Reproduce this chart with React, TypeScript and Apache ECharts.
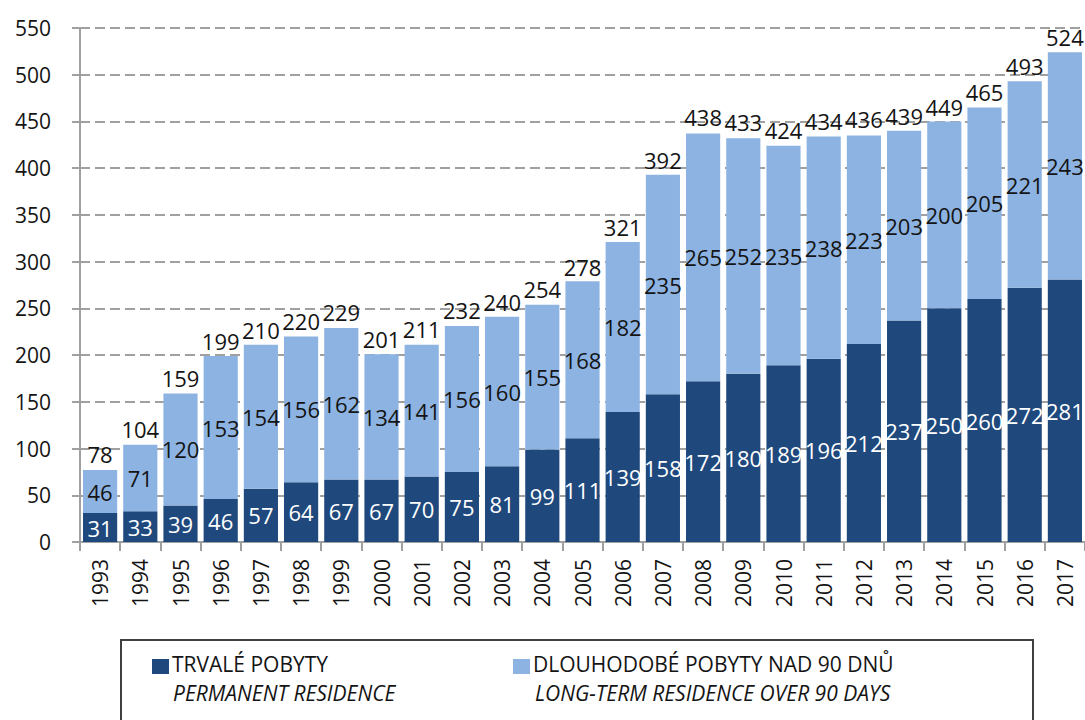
import React, { useEffect, useRef } from "react";
import * as echarts from "echarts";

const years = ["1993","1994","1995","1996","1997","1998","1999","2000","2001","2002","2003","2004","2005","2006","2007","2008","2009","2010","2011","2012","2013","2014","2015","2016","2017"];
const permanent = [31,33,39,46,57,64,67,67,70,75,81,99,111,139,158,172,180,189,196,212,237,250,260,272,281];
const longTerm = [46,71,120,153,154,156,162,134,141,156,160,155,168,182,235,265,252,235,238,223,203,200,205,221,243];
const totals = [78,104,159,199,210,220,229,201,211,232,240,254,278,321,392,438,433,424,434,436,439,449,465,493,524];

const legendLabels = [
  ["TRVALÉ POBYTY", "PERMANENT RESIDENCE"],
  ["DLOUHODOBÉ POBYTY NAD 90 DNŮ", "LONG-TERM RESIDENCE OVER 90 DAYS"],
];

const DARK = "#1f497d";
const LIGHT = "#8db3e2";
const FONT = "Open Sans";
const TEXT = "#141414";

export default function App() {
  const ref = useRef<HTMLDivElement>(null);
  useEffect(() => {
    if (!ref.current) return;
    const chart = echarts.init(ref.current, null, { renderer: "svg" });
    const labelBase = { fontFamily: FONT, fontSize: 22 };
    const legendText = (text: string, x: number, y: number, italic: boolean) => ({
      type: "text",
      x,
      y,
      style: {
        text,
        fontFamily: FONT,
        fontStyle: italic ? "italic" : "normal",
        fontSize: 21,
        lineHeight: 22,
        fill: TEXT,
        verticalAlign: "middle",
      },
    });
    chart.setOption({
      animation: false,
      backgroundColor: "#ffffff",
      grid: { left: 80, top: 28, width: 1006, height: 514, containLabel: false },
      xAxis: {
        type: "category",
        data: years,
        axisLine: { lineStyle: { color: "#a0a0a0", width: 2 } },
        axisTick: { show: true, length: 9, lineStyle: { color: "#a0a0a0", width: 2 } },
        axisLabel: { rotate: 90, margin: 17, color: TEXT, fontFamily: FONT, fontSize: 21 },
      },
      yAxis: {
        type: "value",
        min: 0,
        max: 550,
        interval: 50,
        axisLine: { show: true, lineStyle: { color: "#a0a0a0", width: 2 } },
        axisTick: { show: true, length: 8, lineStyle: { color: "#a0a0a0", width: 2 } },
        axisLabel: { margin: 29, color: TEXT, fontFamily: FONT, fontSize: 21 },
        splitLine: { show: true, lineStyle: { color: "#a0a0a0", width: 2, type: [10, 5] } },
      },
      series: [
        {
          name: legendLabels[0][0],
          type: "bar",
          stack: "total",
          data: permanent,
          barCategoryGap: "15%",
          itemStyle: { color: DARK },
          label: { show: true, position: "inside", color: "#ffffff", ...labelBase },
        },
        {
          name: legendLabels[1][0],
          type: "bar",
          stack: "total",
          data: longTerm,
          barCategoryGap: "15%",
          itemStyle: { color: LIGHT },
          label: { show: true, position: "inside", color: TEXT, ...labelBase },
        },
        {
          name: "total",
          type: "scatter",
          data: totals,
          symbolSize: 1,
          itemStyle: { color: "rgba(0,0,0,0)", opacity: 1 },
          label: { show: true, position: "top", distance: 4, color: TEXT, opacity: 1, ...labelBase },
          z: 5,
        },
      ],
      graphic: [
        {
          type: "rect",
          shape: { x: 121, y: 640, width: 912, height: 100 },
          style: { fill: "#ffffff", stroke: "#404040", lineWidth: 2 },
        },
        {
          type: "rect",
          shape: { x: 152, y: 659, width: 17, height: 15 },
          style: { fill: DARK },
        },
        legendText(legendLabels[0][0], 172, 664, false),
        legendText(legendLabels[0][1], 173, 693, true),
        {
          type: "rect",
          shape: { x: 513, y: 659, width: 17, height: 15 },
          style: { fill: LIGHT },
        },
        legendText(legendLabels[1][0], 533, 664, false),
        legendText(legendLabels[1][1], 535, 693, true),
      ],
    });
    return () => chart.dispose();
  }, []);
  return (
    <div
      ref={ref}
      style={{ position: "absolute", left: 0, top: 0, width: 1085, height: 720, background: "#fff" }}
    />
  );
}
